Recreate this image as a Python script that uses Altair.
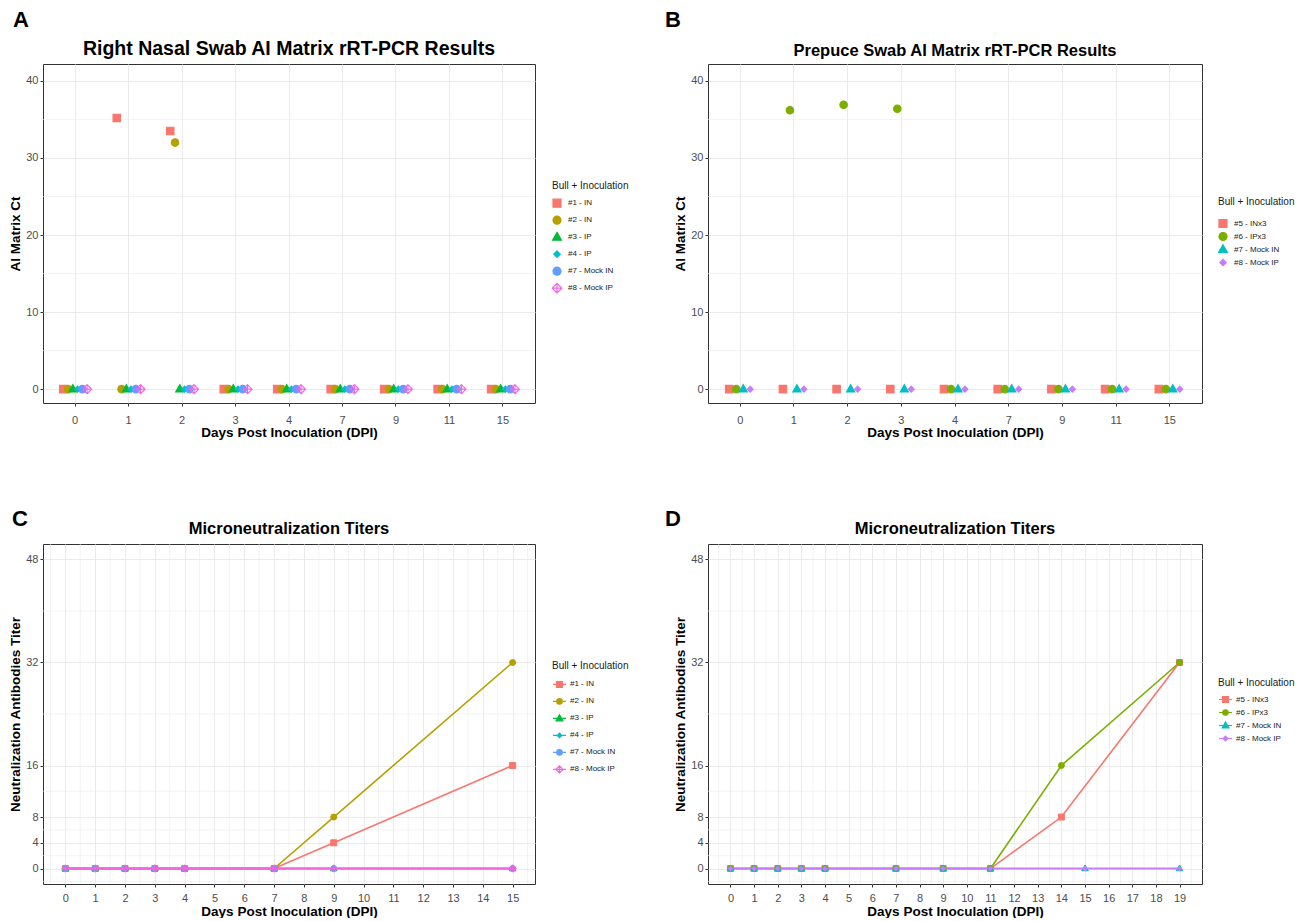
import altair as alt
import pandas as pd

# ---------------- Panel A: Right nasal swab, AI Matrix Ct ----------------
a_days = ["0", "1", "2", "3", "4", "7", "9", "11", "15"]
a_groups = ["#1 - IN", "#2 - IN", "#3 - IP", "#4 - IP", "#7 - Mock IN", "#8 - Mock IP"]
a_ct_b1 = [0, 35.2, 33.5, 0, 0, 0, 0, 0, 0]
a_ct_b2 = [0, 0, 32.0, 0, 0, 0, 0, 0, 0]
a_ct_b3 = [0, 0, 0, 0, 0, 0, 0, 0, 0]
a_ct_b4 = [0, 0, 0, 0, 0, 0, 0, 0, 0]
a_ct_b7 = [0, 0, 0, 0, 0, 0, 0, 0, 0]
a_ct_b8 = [0, 0, 0, 0, 0, 0, 0, 0, 0]

# ---------------- Panel B: Prepuce swab, AI Matrix Ct ----------------
b_days = ["0", "1", "2", "3", "4", "7", "9", "11", "15"]
b_groups = ["#5 - INx3", "#6 - IPx3", "#7 - Mock IN", "#8 - Mock IP"]
b_ct_b5 = [0, 0, 0, 0, 0, 0, 0, 0, 0]
b_ct_b6 = [0, 36.2, 36.9, 36.4, 0, 0, 0, 0, 0]
b_ct_b7 = [0, 0, 0, 0, 0, 0, 0, 0, 0]
b_ct_b8 = [0, 0, 0, 0, 0, 0, 0, 0, 0]

# ---------------- Panel C: Microneutralization titers ----------------
c_groups = a_groups
c_days = [0, 1, 2, 3, 4, 7, 9, 15]
c_titer_b1 = [0, 0, 0, 0, 0, 0, 4, 16]
c_titer_b2 = [0, 0, 0, 0, 0, 0, 8, 32]
c_titer_b3 = [0, 0, 0, 0, 0, 0, 0, 0]
c_titer_b4 = [0, 0, 0, 0, 0, 0, 0, 0]
c_titer_b7 = [0, 0, 0, 0, 0, 0, 0, 0]
c_titer_b8 = [0, 0, 0, 0, 0, 0, 0, 0]

# ---------------- Panel D: Microneutralization titers ----------------
d_groups = b_groups
d_days_inoc = [0, 1, 2, 3, 4, 7, 9, 11, 14, 19]
d_days_mock = [0, 1, 2, 3, 4, 7, 9, 11, 15, 19]
d_titer_b5 = [0, 0, 0, 0, 0, 0, 0, 0, 8, 32]
d_titer_b6 = [0, 0, 0, 0, 0, 0, 0, 0, 16, 32]
d_titer_b7 = [0, 0, 0, 0, 0, 0, 0, 0, 0, 0]
d_titer_b8 = [0, 0, 0, 0, 0, 0, 0, 0, 0, 0]

# ---------------- axis ticks ----------------
ct_ticks = [0, 10, 20, 30, 40]
ct_minor = [5, 15, 25, 35]
titer_ticks = [0, 4, 8, 16, 32, 48]
titer_minor = [-2, 2, 6, 12, 24, 40]
c_x_ticks = [0, 1, 2, 3, 4, 5, 6, 7, 8, 9, 10, 11, 12, 13, 14, 15]
d_x_ticks = [0, 1, 2, 3, 4, 5, 6, 7, 8, 9, 10, 11, 12, 13, 14, 15, 16, 17, 18, 19]

# ---------------- styling ----------------
FONT = "Liberation Sans"
GRID = "#EBEBEB"
COL6 = ["#F8766D", "#B79F00", "#00BA38", "#00BFC4", "#619CFF", "#F564E3"]
COL4 = ["#F8766D", "#7CAE00", "#00BFC4", "#C77CFF"]

SQ = "square"
CI = "circle"
TR = "M0,-1.2L1.1,0.75L-1.1,0.75Z"
DI = "M0,-0.8L0.8,0L0,0.8L-0.8,0Z"
DP = "M0,-1.2L1.2,0L0,1.2L-1.2,0ZM0,-1.2L0,1.2M-1.2,0L1.2,0"

LN = "M-1,0L1,0"
L_SQ = LN + "M-0.45,-0.45L0.45,-0.45L0.45,0.45L-0.45,0.45Z"
L_CI = LN + "M0.42,0A0.42,0.42 0 1,1 -0.42,0A0.42,0.42 0 1,1 0.42,0Z"
L_TR = LN + "M0,-0.55L0.52,0.38L-0.52,0.38Z"
L_DI = LN + "M0,-0.36L0.36,0L0,0.36L-0.36,0Z"
L_DP = LN + "M0,-0.55L0.55,0L0,0.55L-0.55,0ZM0,-0.55L0,0.55"


def make_df(groups, xs_list, ys_list, xname, yname):
    rows = []
    for g, xs, ys in zip(groups, xs_list, ys_list):
        for x, y in zip(xs, ys):
            rows.append({xname: x, yname: y, "group": g})
    return pd.DataFrame(rows)


def legend(lx, ly, clip, tpad, symsize, loff):
    return alt.Legend(
        title="Bull + Inoculation", orient="none", legendX=lx, legendY=ly,
        titleFontSize=10, titleFontWeight="normal", titleFont=FONT, titleColor="#1a1a1a",
        titlePadding=tpad, labelFontSize=8, labelFont=FONT, labelColor="#1a1a1a",
        clipHeight=clip, rowPadding=0, symbolSize=symsize, labelOffset=loff,
        symbolStrokeWidth=1.2,
    )


def letter_layer(letter, lx, ly):
    return alt.Chart(pd.DataFrame({"t": [letter]})).mark_text(
        font=FONT, fontSize=22, fontWeight="bold", align="left", baseline="alphabetic", color="black"
    ).encode(text="t:N", x=alt.value(lx), y=alt.value(ly))


def title(text, dy, size):
    return alt.TitleParams(text=text, fontSize=size, fontWeight="bold", font=FONT, color="black",
                           anchor="middle", frame="group", offset=0, dy=dy)


def dodge_panel(df, days, groups, colors, shapes, fills, off_range, leg, letter, lpos, ttl, tsize, w):
    xs = alt.Scale(domain=days, paddingInner=0, paddingOuter=0.1)
    ys = alt.Scale(domain=[-1.8, 42.2], nice=False, zero=False)
    x_enc = alt.X("day:N", scale=xs, sort=days,
                  axis=alt.Axis(title="Days Post Inoculation (DPI)", labelAngle=0, grid=True,
                                bandPosition=0.5, labelPadding=8, titlePadding=0))
    y_enc = alt.Y("ct:Q", scale=ys, axis=alt.Axis(values=ct_ticks, title="AI Matrix Ct", grid=True))
    hminor = alt.Chart(pd.DataFrame({"ct": ct_minor})).mark_rule(color=GRID, strokeWidth=0.6).encode(
        y=y_enc)
    pts = alt.Chart(df).mark_point(filled=True, opacity=1, size=56, strokeWidth=1.1).encode(
        x=x_enc, y=y_enc,
        xOffset=alt.XOffset("group:N", scale=alt.Scale(domain=groups, paddingInner=0, paddingOuter=0,
                                                       range=off_range)),
        shape=alt.Shape("group:N", scale=alt.Scale(domain=groups, range=shapes), legend=leg),
        fill=alt.Fill("group:N", scale=alt.Scale(domain=groups, range=fills), legend=leg),
        stroke=alt.Stroke("group:N", scale=alt.Scale(domain=groups, range=colors), legend=leg),
    )
    return alt.layer(hminor, pts, letter_layer(letter, *lpos)).properties(
        width=w, height=339, title=title(ttl, 50, tsize))


def line_panel(df, groups, colors, shapes, fills, lshapes, xdom, xticks, leg, letter, lpos, w):
    xminor = [t + 0.5 for t in [xticks[0] - 1] + xticks]
    xs = alt.Scale(domain=xdom, nice=False, zero=False)
    ys = alt.Scale(domain=[-2.4, 50.4], nice=False, zero=False)
    x_enc = alt.X("day:Q", scale=xs, axis=alt.Axis(values=xticks, format="d",
                                                   title="Days Post Inoculation (DPI)", grid=True,
                                                   labelPadding=5, titlePadding=1))
    y_enc = alt.Y("titer:Q", scale=ys, axis=alt.Axis(values=titer_ticks,
                                                     title="Neutralization Antibodies Titer", grid=True))
    vminor = alt.Chart(pd.DataFrame({"day": xminor})).mark_rule(color=GRID, strokeWidth=0.6).encode(
        x=x_enc)
    hminor = alt.Chart(pd.DataFrame({"titer": titer_minor})).mark_rule(color=GRID, strokeWidth=0.6).encode(
        y=y_enc)
    base = alt.Chart(df)
    lines = base.mark_line(strokeWidth=1.6).encode(
        x=x_enc, y=y_enc, detail="group:N",
        stroke=alt.Stroke("group:N", scale=alt.Scale(domain=groups, range=colors), legend=None))
    pts = base.mark_point(filled=True, opacity=1, size=36, strokeWidth=1).encode(
        x=x_enc, y=y_enc,
        shape=alt.Shape("group:N", scale=alt.Scale(domain=groups, range=shapes), legend=None),
        fill=alt.Fill("group:N", scale=alt.Scale(domain=groups, range=fills), legend=None),
        stroke=alt.Stroke("group:N", scale=alt.Scale(domain=groups, range=colors), legend=None))
    legl = base.transform_filter("false").mark_point(filled=True, opacity=1, size=169, strokeWidth=1.4).encode(
        x=x_enc, y=y_enc,
        shape=alt.Shape("group:N", scale=alt.Scale(domain=groups, range=lshapes), legend=leg),
        fill=alt.Fill("group:N", scale=alt.Scale(domain=groups, range=fills), legend=leg),
        stroke=alt.Stroke("group:N", scale=alt.Scale(domain=groups, range=colors), legend=leg))
    return alt.layer(vminor, hminor, lines, pts, legl, letter_layer(letter, *lpos)).resolve_scale(
        shape="independent", fill="independent", stroke="independent"
    ).properties(width=w, height=340, title=title("Microneutralization Titers", 29, 16.5))


df_a = make_df(a_groups, [a_days] * 6,
               [a_ct_b1, a_ct_b2, a_ct_b3, a_ct_b4, a_ct_b7, a_ct_b8], "day", "ct")
df_b = make_df(b_groups, [b_days] * 4, [b_ct_b5, b_ct_b6, b_ct_b7, b_ct_b8], "day", "ct")
df_c = make_df(c_groups, [c_days] * 6,
               [c_titer_b1, c_titer_b2, c_titer_b3, c_titer_b4, c_titer_b7, c_titer_b8], "day", "titer")
df_d = make_df(d_groups, [d_days_inoc, d_days_inoc, d_days_mock, d_days_mock],
               [d_titer_b5, d_titer_b6, d_titer_b7, d_titer_b8], "day", "titer")

fills6 = COL6[:5] + ["transparent"]

pa = dodge_panel(df_a, a_days, a_groups, COL6, [SQ, CI, TR, DI, CI, DP], fills6, [14.95, 38.75],
                 legend(509, 117, 16.3, 4, 64, 6), "A", (-30, -37),
                 "Right Nasal Swab AI Matrix rRT-PCR Results", 19.5, 492)
pb = dodge_panel(df_b, b_days, b_groups, COL4, [SQ, CI, TR, DI], COL4, [15.85, 36.85],
                 legend(510, 133, 13, 10, 64, 6), "B", (-43, -37),
                 "Prepuce Swab AI Matrix rRT-PCR Results", 16.5, 494)
pc = line_panel(df_c, c_groups, COL6, [SQ, CI, TR, DI, CI, DP], fills6,
                [L_SQ, L_CI, L_TR, L_DI, L_CI, L_DP], [-0.75, 15.75], c_x_ticks,
                legend(509, 117, 16.8, 5, 169, 3), "C", (-31, -18), 492)
pd_ = line_panel(df_d, d_groups, COL4, [SQ, CI, TR, DI], COL4,
                 [L_SQ, L_CI, L_TR, L_DI], [-0.95, 19.95], d_x_ticks,
                 legend(510, 134, 13, 5, 169, 3), "D", (-43, -18), 494)

chart = alt.concat(pa, pb, pc, pd_, columns=2, spacing={"row": 141, "column": 173},
                   bounds="flush").resolve_scale(
    x="independent", y="independent", xOffset="independent",
    shape="independent", fill="independent", stroke="independent"
).properties(
    padding={"left": 0, "top": 0, "right": 0, "bottom": 0}
).configure_view(stroke="#333333", strokeWidth=1).configure_axis(
    labelFont=FONT, labelFontSize=11, labelColor="#4D4D4D", tickColor="#333333", tickSize=3,
    domain=False, gridColor=GRID, gridWidth=1, titleFont=FONT, titleFontSize=13.5,
    titleFontWeight="bold", titleColor="black"
).configure_axisY(labelPadding=2, titlePadding=3)

chart.save("out.html", embed_options={"renderer": "svg", "actions": False})
